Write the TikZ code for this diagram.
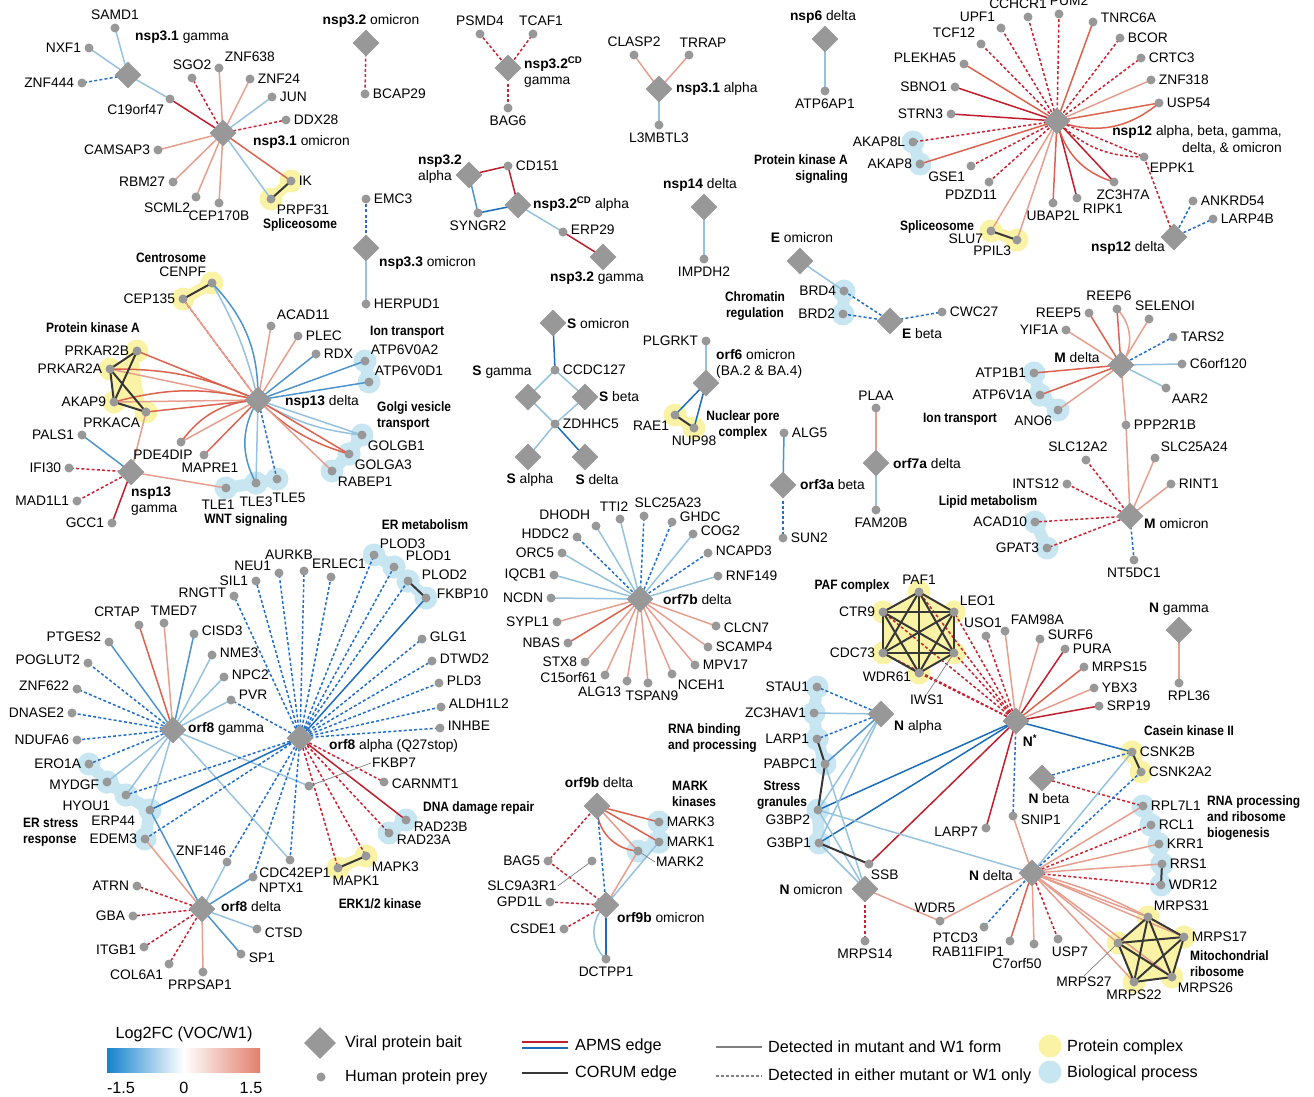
\documentclass[tikz,border=0pt]{standalone}
\usepackage{fontspec}
\setmainfont{Liberation Sans}
\newfontfamily\catf{Liberation Sans}[FakeStretch=0.88]
\usetikzlibrary{shapes.geometric}
\definecolor{cRa}{RGB}{230,158,142}
\definecolor{cRb}{RGB}{218,98,78}
\definecolor{cRc}{RGB}{190,30,45}
\definecolor{cBa}{RGB}{150,194,222}
\definecolor{cBb}{RGB}{78,148,204}
\definecolor{cBc}{RGB}{28,108,186}
\definecolor{cDR}{RGB}{200,35,50}
\definecolor{cDB}{RGB}{35,110,200}
\definecolor{ngray}{RGB}{152,152,152}
\definecolor{hlY}{RGB}{250,243,165}
\definecolor{hlB}{RGB}{200,230,241}
\definecolor{cK}{RGB}{55,55,55}
\definecolor{gL}{RGB}{20,130,205}
\definecolor{gR}{RGB}{226,128,108}
\pgfdeclarelayer{hl}\pgfdeclarelayer{bg}\pgfsetlayers{hl,bg,main}
\tikzset{
 prey/.style={circle,fill=ngray,minimum size=9pt,inner sep=0pt},
 bait/.style={diamond,fill=ngray,minimum width=27pt,minimum height=27pt,inner sep=0pt},
 lab/.style={font=\fontsize{13.8}{15.5}\selectfont,inner sep=1pt},
 blab/.style={font=\fontsize{13.8}{16.5}\selectfont,inner sep=0pt},
 cat/.style={font=\catf\bfseries\fontsize{13.6}{15.8}\selectfont,inner sep=0pt},
 leg/.style={font=\fontsize{16.2}{18}\selectfont,inner sep=0pt},
 eg/.style={line width=1.5pt},
 ra/.style={eg,draw=cRa}, rb/.style={eg,draw=cRb}, rc/.style={eg,draw=cRc},
 ba/.style={eg,draw=cBa}, bb/.style={eg,draw=cBb}, bc/.style={eg,draw=cBc},
 dr/.style={eg,draw=cDR,dash pattern=on 3pt off 2.2pt},
 db/.style={eg,draw=cDB,dash pattern=on 3pt off 2.2pt},
 cx/.style={line width=2pt,draw=cK},
 ld/.style={line width=0.7pt,draw=gray},
}
\newcommand\mkprey[6][]{\node[prey,label={[lab,#1]#5:#6}] (#2) at (#3,#4) {};}
\newcommand\mkpreyn[3]{\node[prey] (#1) at (#2,#3) {};}
\newcommand\mkbait[3]{\node[bait] (#1) at (#2,#3) {};}
\newcommand\ed[3][ba]{\draw[#1] (#2.center) -- (#3.center);}
\newcommand\ced[4][ba]{\draw[#1] (#2.center) to[#4] (#3.center);}
\newcommand\hlp[2]{\foreach \a/\b in {#2} {\draw[draw=#1,line width=12pt] (\a.center) -- (\b.center); \fill[#1] (\a.center) circle (11.5pt); \fill[#1] (\b.center) circle (11.5pt);}}
\newcommand\hls[2]{\foreach \a in {#2} {\fill[#1] (\a.center) circle (11.5pt);}}
\begin{document}
\begin{tikzpicture}[x=1pt,y=-1pt,label distance=2pt]
\useasboundingbox (0,0) rectangle (1314,1097);
% ---------- nsp3.1 ----------
\mkprey{SAMD1}{115}{28}{above}{SAMD1}
\mkprey{NXF1}{89}{48}{left}{NXF1}
\mkprey{ZNF444}{82}{83}{left}{ZNF444}
\mkprey{C19orf47}{170}{99}{below left}{C19orf47}
\mkprey{SGO2}{192}{78}{above}{SGO2}
\mkprey{ZNF638}{219}{68}{above right}{ZNF638}
\mkprey{ZNF24}{250}{79}{right}{ZNF24}
\mkprey{JUN}{272}{97}{right}{JUN}
\mkprey{DDX28}{286}{120}{right}{DDX28}
\mkprey{CAMSAP3}{158}{150}{left}{CAMSAP3}
\mkprey{RBM27}{173}{182}{left}{RBM27}
\mkprey{SCML2}{196}{197}{below left}{SCML2}
\mkprey{CEP170B}{219}{203}{below}{CEP170B}
\mkprey{IK}{291}{181}{right}{IK}
\mkprey{PRPF31}{271}{199}{below right}{PRPF31}
\mkbait{nsp31g}{128}{75}
\mkbait{nsp31o}{223}{133}
\node[blab,anchor=west] (Lnsp31g) at (135,37) {\textbf{nsp3.1} gamma};
\node[blab,anchor=west] (Lnsp31o) at (253,142) {\textbf{nsp3.1} omicron};
\node[cat] (Csplice1) at (300,225) {Spliceosome};
% nsp3.2 omicron / nsp3.3
\mkbait{nsp32o}{366}{43}
\node[blab] (Lnsp32o) at (371,21) {\textbf{nsp3.2} omicron};
\mkprey{BCAP29}{365}{94}{right}{BCAP29}
\mkprey{EMC3}{366}{199}{right}{EMC3}
\mkbait{nsp33o}{366}{248}
\node[blab,anchor=west] (Lnsp33o) at (379,263) {\textbf{nsp3.3} omicron};
\mkprey{HERPUD1}{366}{304}{right}{HERPUD1}
% nsp3.2CD gamma
\mkbait{nsp32cdg}{508}{68}
\node[blab,anchor=west,align=left] (Lnsp32cdg) at (524,72) {\textbf{nsp3.2\textsuperscript{CD}}\\gamma};
\mkprey{PSMD4}{480}{34}{above}{PSMD4}
\mkprey[xshift=8pt]{TCAF1}{533}{34}{above}{TCAF1}
\mkprey{BAG6}{508}{108}{below}{BAG6}
% nsp3.1 alpha
\mkbait{nsp31a}{659}{89}
\node[blab,anchor=west] (Lnsp31a) at (676,89) {\textbf{nsp3.1} alpha};
\mkprey{CLASP2}{634}{55}{above}{CLASP2}
\mkprey[xshift=14pt]{TRRAP}{689}{55}{above}{TRRAP}
\mkprey{L3MBTL3}{659}{125}{below}{L3MBTL3}
% nsp6
\mkbait{nsp6d}{825}{39}
\node[blab] (Lnsp6d) at (823,17) {\textbf{nsp6} delta};
\mkprey{ATP6AP1}{825}{91}{below}{ATP6AP1}
% nsp3.2 alpha etc
\mkbait{nsp32a}{469}{175}
\node[blab,anchor=east,align=left] (Lnsp32a) at (462,169) {\textbf{nsp3.2}\\alpha};
\mkprey{CD151}{508}{166}{right}{CD151}
\mkbait{nsp32cda}{518}{205}
\node[blab,anchor=west] (Lnsp32cda) at (533,204) {\textbf{nsp3.2\textsuperscript{CD}} alpha};
\mkprey{SYNGR2}{478}{213}{below}{SYNGR2}
\mkprey[yshift=2pt]{ERP29}{563}{232}{right}{ERP29}
\mkbait{nsp32g}{603}{257}
\node[blab] (Lnsp32g) at (597,278) {\textbf{nsp3.2} gamma};
% nsp14
\mkbait{nsp14d}{704}{207}
\node[blab] (Lnsp14d) at (700,185) {\textbf{nsp14} delta};
\mkprey{IMPDH2}{704}{259}{below}{IMPDH2}
% E
\mkbait{Eo}{800}{261}
\node[blab] (LEo) at (802,238) {\textbf{E} omicron};
\mkprey{BRD4}{844}{291}{left}{BRD4}
\mkprey{BRD2}{843}{314}{left}{BRD2}
\mkbait{Eb}{890}{321}
\node[blab] (LEb) at (922,334) {\textbf{E} beta};
\mkprey{CWC27}{942}{312}{right}{CWC27}
\node[cat,align=center] (Cchrom) at (755,306) {Chromatin\\regulation};
\node[cat,anchor=east,align=right] (Cpkas) at (848,169) {Protein kinase A\\signaling};
% ---------- nsp12 ----------
\mkbait{nsp12}{1057}{121}
\node[blab,anchor=east,align=right] (Lnsp12) at (1282,140) {\textbf{nsp12} alpha, beta, gamma,\\delta, \& omicron};
\mkprey[xshift=-10pt]{CCHCR1}{1028}{17}{above}{CCHCR1}
\mkprey[xshift=10pt]{PUM2}{1059}{14}{above}{PUM2}
\mkprey{UPF1}{1001}{28}{above left}{UPF1}
\mkprey{TCF12}{981}{44}{above left}{TCF12}
\mkprey[yshift=4pt]{TNRC6A}{1093}{22}{right}{TNRC6A}
\mkprey{BCOR}{1120}{38}{right}{BCOR}
\mkprey{CRTC3}{1141}{58}{right}{CRTC3}
\mkprey{ZNF318}{1151}{80}{right}{ZNF318}
\mkprey{USP54}{1159}{103}{right}{USP54}
\mkprey[yshift=6pt]{PLEKHA5}{964}{64}{left}{PLEKHA5}
\mkprey{SBNO1}{955}{87}{left}{SBNO1}
\mkprey{STRN3}{951}{114}{left}{STRN3}
\mkprey{AKAP8L}{913}{142}{left}{AKAP8L}
\mkprey{AKAP8}{920}{164}{left}{AKAP8}
\mkprey{GSE1}{971}{166}{below left}{GSE1}
\mkprey[xshift=-18pt]{PDZD11}{989}{182}{below}{PDZD11}
\mkprey{UBAP2L}{1053}{203}{below}{UBAP2L}
\mkprey{RIPK1}{1077}{198}{below right}{RIPK1}
\mkprey[xshift=9pt]{ZC3H7A}{1114}{182}{below}{ZC3H7A}
\mkprey{EPPK1}{1144}{157}{below right}{EPPK1}
\mkprey[yshift=-8pt]{SLU7}{991}{231}{left}{SLU7}
\mkprey{PPIL3}{1017}{240}{below left}{PPIL3}
\node[cat] (Csplice2) at (937,227) {Spliceosome};
\mkbait{nsp12d}{1174}{237}
\node[blab] (Lnsp12d) at (1128,248) {\textbf{nsp12} delta};
\mkprey{ANKRD54}{1193}{201}{right}{ANKRD54}
\mkprey{LARP4B}{1213}{219}{right}{LARP4B}
% ---------- nsp13 ----------
\mkbait{nsp13d}{258}{400}
\node[blab,anchor=west] (Lnsp13d) at (285,402) {\textbf{nsp13} delta};
\mkprey{CENPF}{212}{283}{above left}{CENPF}
\mkprey{CEP135}{183}{299}{left}{CEP135}
\node[cat] (Ccentro) at (171,258) {Centrosome};
\mkprey{ACAD11}{271}{326}{above right}{ACAD11}
\mkprey{PLEC}{298}{336}{right}{PLEC}
\mkprey{RDX}{316}{354}{right}{RDX}
\mkprey{ATP6V0A2}{365}{361}{above right}{ATP6V0A2}
\mkprey{ATP6V0D1}{369}{382}{above right}{ATP6V0D1}
\node[cat,anchor=west] (Cion1) at (370,332) {Ion transport};
\mkprey{PRKAR2B}{137}{351}{left}{PRKAR2B}
\mkprey{PRKAR2A}{110}{369}{left}{PRKAR2A}
\mkprey{AKAP9}{114}{402}{left}{AKAP9}
\mkprey{PRKACA}{146}{412}{below left}{PRKACA}
\node[cat] (Cpka) at (93,328) {Protein kinase A};
\mkprey{PALS1}{82}{435}{left}{PALS1}
\mkbait{nsp13g}{131}{472}
\node[blab,anchor=west,align=left] (Lnsp13g) at (131,501) {\textbf{nsp13}\\gamma};
\mkprey{IFI30}{69}{468}{left}{IFI30}
\mkprey{MAD1L1}{77}{501}{left}{MAD1L1}
\mkprey{GCC1}{112}{523}{left}{GCC1}
\mkprey[xshift=-18pt]{PDE4DIP}{181}{442}{below}{PDE4DIP}
\mkprey[xshift=6pt]{MAPRE1}{204}{455}{below}{MAPRE1}
\mkprey{GOLGB1}{362}{435}{below right}{GOLGB1}
\mkprey{GOLGA3}{349}{454}{below right}{GOLGA3}
\mkprey{RABEP1}{332}{471}{below right}{RABEP1}
\node[cat,anchor=west,align=left] (Cgolgi) at (377,416) {Golgi vesicle\\transport};
\mkprey[xshift=-8pt,yshift=-4pt]{TLE1}{226}{488}{below}{TLE1}
\mkprey[yshift=-6pt]{TLE3}{256}{483}{below}{TLE3}
\mkprey[xshift=12pt,yshift=-6pt]{TLE5}{277}{479}{below}{TLE5}
\node[cat] (Cwnt) at (246,520) {WNT signaling};
% ---------- S ----------
\mkbait{Somi}{553}{323}
\node[blab,anchor=west] (LSomi) at (567,324) {\textbf{S} omicron};
\mkprey{CCDC127}{555}{370}{right}{CCDC127}
\mkbait{Sgam}{528}{397}
\node[blab] (LSgam) at (502,372) {\textbf{S} gamma};
\mkbait{Sbeta}{585}{397}
\node[blab,anchor=west] (LSbeta) at (599,397) {\textbf{S} beta};
\mkprey{ZDHHC5}{555}{424}{right}{ZDHHC5}
\mkbait{Salpha}{528}{457}
\node[blab] (LSalpha) at (530,480) {\textbf{S} alpha};
\mkbait{Sdelta}{585}{457}
\node[blab] (LSdelta) at (597,480) {\textbf{S} delta};
% orf6
\mkbait{orf6}{706}{383}
\node[blab,anchor=west,align=left] (Lorf6) at (716,364) {\textbf{orf6} omicron\\(BA.2 \& BA.4)};
\mkprey{PLGRKT}{706}{341}{left}{PLGRKT}
\mkprey{RAE1}{675}{415}{below left}{RAE1}
\mkprey{NUP98}{694}{428}{below}{NUP98}
\node[cat,align=center] (Cnpc) at (743,425) {Nuclear pore\\complex};
% orf3a, orf7a
\mkprey{ALG5}{784}{433}{right}{ALG5}
\mkbait{orf3a}{783}{485}
\node[blab,anchor=west] (Lorf3a) at (800,485) {\textbf{orf3a} beta};
\mkprey{SUN2}{783}{538}{right}{SUN2}
\mkprey{PLAA}{876}{408}{above}{PLAA}
\mkbait{orf7a}{876}{463}
\node[blab,anchor=west] (Lorf7a) at (893,464) {\textbf{orf7a} delta};
\mkprey[xshift=5pt]{FAM20B}{876}{510}{below}{FAM20B}
% ---------- M ----------
\mkbait{Md}{1121}{365}
\node[blab] (LMd) at (1077,358) {\textbf{M} delta};
\mkprey{REEP5}{1089}{313}{left}{REEP5}
\mkprey[xshift=-8pt]{REEP6}{1117}{309}{above}{REEP6}
\mkprey[xshift=16pt]{SELENOI}{1149}{319}{above}{SELENOI}
\mkprey{TARS2}{1173}{337}{right}{TARS2}
\mkprey{YIF1A}{1066}{330}{left}{YIF1A}
\mkprey{C6orf120}{1182}{364}{right}{C6orf120}
\mkprey{AAR2}{1166}{388}{below right}{AAR2}
\mkprey{ATP1B1}{1034}{373}{left}{ATP1B1}
\mkprey{ATP6V1A}{1040}{395}{left}{ATP6V1A}
\mkprey{ANO6}{1058}{410}{below left}{ANO6}
\node[cat] (Cion2) at (960,419) {Ion transport};
\mkprey{PPP2R1B}{1126}{425}{right}{PPP2R1B}
\mkbait{Mo}{1130}{516}
\node[blab,anchor=west] (LMo) at (1144,524) {\textbf{M} omicron};
\mkprey[xshift=-8pt]{SLC12A2}{1086}{460}{above}{SLC12A2}
\mkprey{SLC25A24}{1155}{458}{above right}{SLC25A24}
\mkprey{INTS12}{1067}{484}{left}{INTS12}
\mkprey{RINT1}{1171}{484}{right}{RINT1}
\mkprey{ACAD10}{1035}{522}{left}{ACAD10}
\mkprey{GPAT3}{1047}{548}{left}{GPAT3}
\node[cat] (Clipid) at (988,502) {Lipid metabolism};
\mkprey{NT5DC1}{1134}{560}{below}{NT5DC1}
% ---------- orf7b ----------
\mkbait{orf7b}{640}{599}
\node[blab,anchor=west] (Lorf7b) at (663,600) {\textbf{orf7b} delta};
\mkprey[xshift=-6pt]{TTI2}{620}{519}{above}{TTI2}
\mkprey[xshift=24pt]{SLC25A23}{644}{516}{above}{SLC25A23}
\mkprey[yshift=5pt]{GHDC}{672}{522}{right}{GHDC}
\mkprey[yshift=3pt]{COG2}{693}{534}{right}{COG2}
\mkprey[yshift=2pt]{NCAPD3}{708}{553}{right}{NCAPD3}
\mkprey{RNF149}{718}{576}{right}{RNF149}
\mkprey{DHODH}{596}{526}{above left}{DHODH}
\mkprey[yshift=3pt]{HDDC2}{577}{537}{left}{HDDC2}
\mkprey{ORC5}{562}{553}{left}{ORC5}
\mkprey{IQCB1}{554}{575}{left}{IQCB1}
\mkprey{NCDN}{551}{598}{left}{NCDN}
\mkprey{SYPL1}{557}{622}{left}{SYPL1}
\mkprey{NBAS}{568}{643}{left}{NBAS}
\mkprey{STX8}{585}{662}{left}{STX8}
\mkprey[yshift=-3pt]{C15orf61}{605}{675}{left}{C15orf61}
\mkprey{ALG13}{627}{681}{below left}{ALG13}
\mkprey[xshift=4pt]{TSPAN9}{648}{683}{below}{TSPAN9}
\mkprey{NCEH1}{672}{674}{below right}{NCEH1}
\mkprey{MPV17}{695}{665}{right}{MPV17}
\mkprey{SCAMP4}{708}{647}{right}{SCAMP4}
\mkprey[yshift=-2pt]{CLCN7}{716}{626}{right}{CLCN7}
% ---------- orf8 ----------
\mkbait{orf8g}{173}{730}
\node[blab,anchor=west] (Lorf8g) at (188,729) {\textbf{orf8} gamma};
\mkbait{orf8a}{300}{738}
\node[blab,anchor=west] (Lorf8a) at (329,746) {\textbf{orf8} alpha (Q27stop)};
\mkbait{orf8d}{202}{909}
\node[blab,anchor=west] (Lorf8d) at (221,907) {\textbf{orf8} delta};
\mkprey[xshift=-22pt]{CRTAP}{139}{625}{above}{CRTAP}
\mkprey[xshift=10pt]{TMED7}{164}{623}{above}{TMED7}
\mkprey[yshift=5pt]{PTGES2}{109}{642}{left}{PTGES2}
\mkprey[yshift=3pt]{CISD3}{194}{634}{right}{CISD3}
\mkprey[yshift=3pt]{POGLUT2}{88}{663}{left}{POGLUT2}
\mkprey[yshift=2pt]{NME3}{212}{655}{right}{NME3}
\mkprey[yshift=3pt]{ZNF622}{77}{689}{left}{ZNF622}
\mkprey[yshift=2pt]{NPC2}{224}{677}{right}{NPC2}
\mkprey[yshift=5pt]{PVR}{231}{700}{right}{PVR}
\mkprey{DNASE2}{72}{713}{left}{DNASE2}
\mkprey{NDUFA6}{77}{740}{left}{NDUFA6}
\mkprey{ERO1A}{89}{764}{left}{ERO1A}
\mkprey[yshift=-3pt]{MYDGF}{107}{782}{left}{MYDGF}
\mkprey[xshift=-10pt]{HYOU1}{126}{795}{below left}{HYOU1}
\mkprey[xshift=-9pt]{ERP44}{150}{810}{below left}{ERP44}
\mkprey{EDEM3}{145}{839}{left}{EDEM3}
\node[cat,anchor=west,align=left] (Cers) at (23,832) {ER stress\\response};
\mkprey[yshift=3pt]{RNGTT}{234}{596}{left}{RNGTT}
\mkprey{SIL1}{256}{581}{left}{SIL1}
\mkprey[yshift=7pt]{NEU1}{279}{573}{left}{NEU1}
\mkprey[xshift=-15pt,yshift=3pt]{AURKB}{304}{571}{above}{AURKB}
\mkprey[xshift=8pt]{ERLEC1}{331}{577}{above}{ERLEC1}
\mkprey{PLOD3}{374}{555}{above right}{PLOD3}
\mkprey[xshift=6pt]{PLOD1}{394}{567}{above right}{PLOD1}
\mkprey[xshift=6pt,yshift=6pt]{PLOD2}{408}{581}{right}{PLOD2}
\mkprey[xshift=3pt,yshift=4pt]{FKBP10}{426}{598}{right}{FKBP10}
\node[cat] (Cerm) at (425,525) {ER metabolism};
\mkprey[yshift=2pt]{GLG1}{422}{639}{right}{GLG1}
\mkprey[yshift=2pt]{DTWD2}{432}{661}{right}{DTWD2}
\mkprey[yshift=2pt]{PLD3}{439}{683}{right}{PLD3}
\mkprey[yshift=3pt]{ALDH1L2}{441}{707}{right}{ALDH1L2}
\mkprey[yshift=2pt]{INHBE}{440}{728}{right}{INHBE}
\mkpreyn{FKBP7}{309}{786}
\node[lab,anchor=west] (LFKBP7) at (371,763) {FKBP7};
\mkprey[yshift=-2pt]{CARNMT1}{384}{782}{right}{CARNMT1}
\mkprey[yshift=-7pt]{RAD23B}{406}{820}{right}{RAD23B}
\mkprey[yshift=-7pt]{RAD23A}{389}{833}{right}{RAD23A}
\node[cat,anchor=west] (Cdna) at (423,808) {DNA damage repair};
\mkprey{MAPK3}{366}{856}{below right}{MAPK3}
\mkprey[xshift=18pt]{MAPK1}{338}{868}{below}{MAPK1}
\node[cat] (Cerk) at (380,904) {ERK1/2 kinase};
\mkprey[xshift=5pt]{CDC42EP1}{290}{860}{below}{CDC42EP1}
\mkprey{NPTX1}{253}{877}{below right}{NPTX1}
\mkprey[xshift=5pt]{ZNF146}{227}{862}{above left}{ZNF146}
\mkprey{ATRN}{137}{886}{left}{ATRN}
\mkprey{GBA}{133}{916}{left}{GBA}
\mkprey[yshift=-3pt]{ITGB1}{144}{947}{left}{ITGB1}
\mkprey{COL6A1}{169}{964}{below left}{COL6A1}
\mkprey[xshift=-3pt]{PRPSAP1}{203}{972}{below}{PRPSAP1}
\mkprey[yshift=-4pt]{SP1}{241}{954}{right}{SP1}
\mkprey[yshift=-4pt]{CTSD}{257}{929}{right}{CTSD}
% ---------- orf9b ----------
\mkbait{orf9bd}{597}{806}
\node[blab] (Lorf9bd) at (599,783) {\textbf{orf9b} delta};
\mkbait{orf9bo}{606}{905}
\node[blab,anchor=west] (Lorf9bo) at (617,918) {\textbf{orf9b} omicron};
\mkprey{MARK3}{659}{822}{right}{MARK3}
\mkprey{MARK1}{659}{842}{right}{MARK1}
\mkpreyn{MARK2}{638}{851}
\node[lab] (LMARK2) at (680,862) {MARK2};
\node[cat,anchor=west,align=left] (Cmark) at (672,794) {MARK\\kinases};
\mkprey{BAG5}{548}{861}{left}{BAG5}
\mkpreyn{SLC9A3R1}{592}{861}
\node[lab] (LSLC9) at (522,886) {SLC9A3R1};
\mkprey{GPD1L}{550}{902}{left}{GPD1L}
\mkprey{CSDE1}{564}{929}{left}{CSDE1}
\mkprey{DCTPP1}{606}{959}{below}{DCTPP1}
% ---------- N ----------
\mkbait{Nstar}{1016}{721}
\node[blab] (LNstar) at (1030,741) {\textbf{N\textsuperscript{*}}};
\mkbait{Ngam}{1179}{630}
\node[blab] (LNgam) at (1179,609) {\textbf{N} gamma};
\mkbait{Nalpha}{881}{714}
\node[blab] (LNalpha) at (918,727) {\textbf{N} alpha};
\mkbait{Nbeta}{1042}{778}
\node[blab] (LNbeta) at (1049,799) {\textbf{N} beta};
\mkbait{Nomi}{865}{889}
\node[blab] (LNomi) at (811,890) {\textbf{N} omicron};
\mkbait{Ndelta}{1032}{873}
\node[blab] (LNdelta) at (991,876) {\textbf{N} delta};
\mkprey{PAF1}{919}{592}{above}{PAF1}
\mkprey{LEO1}{954}{612}{above right}{LEO1}
\mkprey{CTR9}{883}{612}{left}{CTR9}
\mkprey{CDC73}{883}{653}{left}{CDC73}
\mkprey[yshift=-4pt]{WDR61}{919}{673}{left}{WDR61}
\mkpreyn{IWS1}{954}{653}
\node[lab] (LIWS1) at (927,700) {IWS1};
\node[cat] (Cpaf) at (852,586) {PAF complex};
\mkprey[xshift=-3pt]{USO1}{986}{636}{above}{USO1}
\mkprey{FAM98A}{1005}{631}{above right}{FAM98A}
\mkprey[yshift=4pt]{SURF6}{1040}{639}{right}{SURF6}
\mkprey{PURA}{1065}{649}{right}{PURA}
\mkprey{MRPS15}{1084}{667}{right}{MRPS15}
\mkprey{YBX3}{1094}{688}{right}{YBX3}
\mkprey{SRP19}{1099}{706}{right}{SRP19}
\mkprey[xshift=10pt]{RPL36}{1179}{683}{below}{RPL36}
\mkprey{STAU1}{817}{687}{left}{STAU1}
\mkprey{ZC3HAV1}{814}{713}{left}{ZC3HAV1}
\mkprey{LARP1}{817}{739}{left}{LARP1}
\mkprey{PABPC1}{825}{764}{left}{PABPC1}
\mkprey[yshift=-10pt]{G3BP2}{818}{810}{left}{G3BP2}
\mkprey{G3BP1}{819}{843}{left}{G3BP1}
\node[cat,anchor=west,align=left] (Crna) at (668,738) {RNA binding\\and processing};
\node[cat,align=center] (Cstress) at (782,795) {Stress\\granules};
\mkprey[xshift=-4pt]{SSB}{869}{864}{below right}{SSB}
\mkprey[yshift=-4pt]{LARP7}{986}{828}{left}{LARP7}
\mkprey[yshift=-4pt]{SNIP1}{1013}{816}{right}{SNIP1}
\mkprey{CSNK2B}{1132}{752}{right}{CSNK2B}
\mkprey{CSNK2A2}{1141}{772}{right}{CSNK2A2}
\node[cat,anchor=west] (Ccasein) at (1144,731) {Casein kinase II};
\mkprey{RPL7L1}{1143}{806}{right}{RPL7L1}
\mkprey{RCL1}{1151}{825}{right}{RCL1}
\mkprey{KRR1}{1159}{844}{right}{KRR1}
\mkprey{RRS1}{1162}{864}{right}{RRS1}
\mkprey{WDR12}{1161}{885}{right}{WDR12}
\node[cat,anchor=west,align=left] (Crnap) at (1207,818) {RNA processing\\and ribosome\\biogenesis};
\mkprey{MRPS14}{865}{941}{below}{MRPS14}
\mkprey[xshift=-5pt]{WDR5}{940}{921}{above}{WDR5}
\mkprey{PTCD3}{984}{927}{below left}{PTCD3}
\mkprey{RAB11FIP1}{1010}{941}{below left}{RAB11FIP1}
\mkprey[xshift=-17pt,yshift=-7pt]{C7orf50}{1034}{944}{below}{C7orf50}
\mkprey[xshift=12pt]{USP7}{1058}{939}{below}{USP7}
\mkprey{MRPS31}{1148}{917}{above right}{MRPS31}
\mkprey{MRPS17}{1184}{937}{right}{MRPS17}
\mkpreyn{MRPS27}{1118}{943}
\node[lab] (LMRPS27) at (1084,982) {MRPS27};
\mkprey{MRPS22}{1134}{982}{below}{MRPS22}
\mkprey{MRPS26}{1172}{977}{below right}{MRPS26}
\node[cat,anchor=west,align=left] (Cmito) at (1190,964) {Mitochondrial\\ribosome};
% ---------- legend ----------
\node[leg] (Lgtitle) at (184,1034) {Log2FC (VOC/W1)};
\shade[left color=gL,right color=gR,middle color=white] (107,1048) rectangle (260,1072);
\node[leg] (Lg1) at (121,1088) {-1.5};
\node[leg] (Lg2) at (184,1088) {0};
\node[leg] (Lg3) at (251,1088) {1.5};
\node[bait,minimum width=32pt,minimum height=32pt] (legB) at (320,1043) {};
\node[leg,anchor=west] (legBt) at (345,1043) {Viral protein bait};
\node[prey] (legP) at (321,1077) {};
\node[leg,anchor=west] (legPt) at (345,1077) {Human protein prey};
\coordinate (la1) at (522,1042); \coordinate (la2) at (568,1042);
\coordinate (la3) at (522,1048); \coordinate (la4) at (568,1048);
\draw[draw=cRc,line width=2.5pt] (la1) -- (la2);
\draw[draw=cBc,line width=2.5pt] (la3) -- (la4);
\node[leg,anchor=west] (legA) at (575,1046) {APMS edge};
\coordinate (lc1) at (522,1073); \coordinate (lc2) at (568,1073);
\draw[draw=cK,line width=2.5pt] (lc1) -- (lc2);
\node[leg,anchor=west] (legC) at (575,1073) {CORUM edge};
\coordinate (ls1) at (716,1047); \coordinate (ls2) at (762,1047);
\draw[draw=gray,line width=2.5pt] (ls1) -- (ls2);
\node[leg,anchor=west] (legS) at (768,1047) {Detected in mutant and W1 form};
\coordinate (lt1) at (716,1076); \coordinate (lt2) at (762,1076);
\draw[draw=gray,line width=2.5pt,dash pattern=on 3pt off 2pt] (lt1) -- (lt2);
\node[leg,anchor=west] (legT) at (768,1076) {Detected in either mutant or W1 only};
\node[circle,fill=hlY,minimum size=23pt,inner sep=0] (legY) at (1050,1046) {};
\node[leg,anchor=west] (legYt) at (1067,1047) {Protein complex};
\node[circle,fill=hlB,minimum size=23pt,inner sep=0] (legBl) at (1050,1072) {};
\node[leg,anchor=west] (legBlt) at (1067,1073) {Biological process};
% ---------- highlights ----------
\begin{pgfonlayer}{hl}
\hlp{hlY}{IK/PRPF31,CENPF/CEP135,SLU7/PPIL3,RAE1/NUP98,MAPK1/MAPK3,CSNK2B/CSNK2A2}
\fill[hlY] (PRKAR2B.center) -- (PRKAR2A.center) -- (AKAP9.center) -- (PRKACA.center) -- cycle;
\hls{hlY}{PRKAR2B,PRKAR2A,AKAP9,PRKACA}
\fill[hlY] (PAF1.center) -- (LEO1.center) -- (IWS1.center) -- (WDR61.center) -- (CDC73.center) -- (CTR9.center) -- cycle;
\hls{hlY}{PAF1,LEO1,IWS1,WDR61,CDC73,CTR9}
\fill[hlY] (MRPS31.center) -- (MRPS17.center) -- (MRPS26.center) -- (MRPS22.center) -- (MRPS27.center) -- cycle;
\hls{hlY}{MRPS31,MRPS17,MRPS26,MRPS22,MRPS27}
\hlp{hlB}{AKAP8L/AKAP8,ATP6V0A2/ATP6V0D1,GOLGB1/GOLGA3,GOLGA3/RABEP1,TLE1/TLE3,TLE3/TLE5,BRD4/BRD2,ATP1B1/ATP6V1A,ATP6V1A/ANO6,ACAD10/GPAT3,PLOD3/PLOD1,PLOD1/PLOD2,PLOD2/FKBP10,ERO1A/MYDGF,MYDGF/HYOU1,HYOU1/ERP44,ERP44/EDEM3,RAD23B/RAD23A,MARK3/MARK1,MARK1/MARK2,STAU1/ZC3HAV1,ZC3HAV1/LARP1,LARP1/PABPC1,G3BP2/G3BP1,RPL7L1/RCL1,RCL1/KRR1,KRR1/RRS1,RRS1/WDR12}
\end{pgfonlayer}
% ---------- edges ----------
\begin{pgfonlayer}{bg}
% nsp3.1
\ed{nsp31g}{SAMD1}\ed{nsp31g}{NXF1}\ed[db]{nsp31g}{ZNF444}\ed{nsp31g}{C19orf47}
\ed[rc]{C19orf47}{nsp31o}\ed[dr]{nsp31o}{SGO2}\ed[ra]{nsp31o}{ZNF638}\ed[ra]{nsp31o}{ZNF24}
\ed{nsp31o}{JUN}\ed[dr]{nsp31o}{DDX28}\ed[ra]{nsp31o}{CAMSAP3}\ed[ra]{nsp31o}{RBM27}
\ed[ra]{nsp31o}{SCML2}\ed[ra]{nsp31o}{CEP170B}\ed[rb]{nsp31o}{IK}\ed{nsp31o}{PRPF31}
\ed[cx]{IK}{PRPF31}
\ed[dr]{nsp32o}{BCAP29}\ed[db]{EMC3}{nsp33o}\ed{nsp33o}{HERPUD1}
\ed[dr]{nsp32cdg}{PSMD4}\ed[dr]{nsp32cdg}{TCAF1}\ed[dr]{nsp32cdg}{BAG6}
\ed[ra]{nsp31a}{CLASP2}\ed[ra]{nsp31a}{TRRAP}\ed{nsp31a}{L3MBTL3}
\ed{nsp6d}{ATP6AP1}
\ed[rc]{nsp32a}{CD151}\ed[rc]{CD151}{nsp32cda}\ed[bb]{nsp32a}{SYNGR2}\ed[bc]{SYNGR2}{nsp32cda}
\ed{nsp32cda}{ERP29}\ed[rc]{ERP29}{nsp32g}
\ed{nsp14d}{IMPDH2}
\ed{Eo}{BRD4}\ed[db]{BRD4}{Eb}\ed[db]{BRD2}{Eb}\ed[db]{Eb}{CWC27}
% nsp12
\ed[dr]{nsp12}{CCHCR1}\ed[dr]{nsp12}{PUM2}\ed[dr]{nsp12}{UPF1}\ed[dr]{nsp12}{TCF12}
\ed[rb]{nsp12}{TNRC6A}\ed[dr]{nsp12}{BCOR}\ed[dr]{nsp12}{CRTC3}\ed[ra]{nsp12}{ZNF318}
\ed[rb]{nsp12}{USP54}\ced[rb]{nsp12}{USP54}{bend right=30}
\ed[rb]{nsp12}{PLEKHA5}\ed[rc]{nsp12}{SBNO1}\ed[rc]{nsp12}{STRN3}
\ed[dr]{nsp12}{AKAP8L}\ed[rb]{nsp12}{AKAP8}\ed[dr]{nsp12}{GSE1}\ed[dr]{nsp12}{PDZD11}
\ed[rb]{nsp12}{UBAP2L}\ed[rc]{nsp12}{RIPK1}\ed[rc]{nsp12}{ZC3H7A}\ced[rb]{nsp12}{ZC3H7A}{bend right=30}
\ed[dr]{nsp12}{EPPK1}\ced[dr]{nsp12}{EPPK1}{bend right=22}
\ed[ra]{nsp12}{SLU7}\ed[ra]{nsp12}{PPIL3}\ed[cx]{SLU7}{PPIL3}
\ed[dr]{EPPK1}{nsp12d}\ed[db]{nsp12d}{ANKRD54}\ed[db]{nsp12d}{LARP4B}
% nsp13
\ed[dr]{nsp13d}{CEP135}\ed[ra]{nsp13d}{CEP135}
\ced{nsp13d}{CENPF}{bend right=8}\ced[bb]{nsp13d}{CENPF}{bend right=22}
\ed[cx]{CENPF}{CEP135}
\ed[ra]{nsp13d}{ACAD11}\ed[ra]{nsp13d}{PLEC}\ed[bb]{nsp13d}{RDX}
\ed[bb]{nsp13d}{ATP6V0A2}\ed[bb]{nsp13d}{ATP6V0D1}
\ed[rb]{nsp13d}{PRKAR2B}\ed[ra]{nsp13d}{PRKAR2A}\ced[rb]{PRKAR2A}{nsp13d}{bend left=12}
\ed[ra]{nsp13d}{AKAP9}\ced[rb]{AKAP9}{nsp13d}{bend left=14}\ed[rb]{nsp13d}{PRKACA}
\ed[ra]{nsp13d}{PDE4DIP}\ced[rb]{PDE4DIP}{nsp13d}{bend left=25}\ed[rb]{nsp13d}{MAPRE1}
\ed{nsp13d}{GOLGB1}\ced{nsp13d}{GOLGB1}{bend right=12}
\ed[rb]{nsp13d}{GOLGA3}\ced[rb]{nsp13d}{GOLGA3}{bend right=14}\ed[ra]{nsp13d}{RABEP1}
\ed{nsp13d}{TLE3}\ced[bb]{nsp13d}{TLE3}{bend right=30}\ed[db]{nsp13d}{TLE5}
\foreach \a/\b in {PRKAR2B/PRKAR2A,PRKAR2B/AKAP9,PRKAR2A/AKAP9,PRKAR2A/PRKACA,AKAP9/PRKACA} {\ed[cx]{\a}{\b}}
\ed[ra]{nsp13g}{PRKACA}\ed[bb]{nsp13g}{PALS1}\ed[dr]{nsp13g}{IFI30}\ed[dr]{nsp13g}{MAD1L1}
\ed[rc]{nsp13g}{GCC1}\ed[ra]{nsp13g}{TLE1}
% S
\ed[bc]{Somi}{CCDC127}\ed{CCDC127}{Sgam}\ed{CCDC127}{Sbeta}\ed{Sgam}{ZDHHC5}\ed{Sbeta}{ZDHHC5}
\ed{ZDHHC5}{Salpha}\ed[bc]{ZDHHC5}{Sdelta}
% orf6, orf3a, orf7a
\ed{PLGRKT}{orf6}\ed[bc]{orf6}{RAE1}\ed[bc]{orf6}{NUP98}\ed[cx]{RAE1}{NUP98}
\ed[bb]{ALG5}{orf3a}\ed[db]{orf3a}{SUN2}
\ed[ra]{PLAA}{orf7a}\ed{orf7a}{FAM20B}
% M
\ed[rb]{Md}{REEP5}\ed[rb]{Md}{REEP6}\ced[ra]{Md}{REEP6}{bend right=40}\ed[ra]{Md}{SELENOI}
\ed[db]{Md}{TARS2}\ed[ra]{Md}{YIF1A}\ed{Md}{C6orf120}\ed{Md}{AAR2}
\ed[rb]{Md}{ATP1B1}\ed[rb]{Md}{ATP6V1A}\ed[ra]{Md}{ANO6}
\ed[ra]{Md}{PPP2R1B}\ed[ra]{PPP2R1B}{Mo}
\ed[dr]{Mo}{SLC12A2}\ed[ra]{Mo}{SLC25A24}\ed[dr]{Mo}{INTS12}\ed[ra]{Mo}{RINT1}
\ed[dr]{Mo}{ACAD10}\ed[dr]{Mo}{GPAT3}\ed[db]{Mo}{NT5DC1}
% orf7b
\foreach \n in {TTI2,COG2,RNF149,DHODH,ORC5,IQCB1,NCDN} {\ed{orf7b}{\n}}
\foreach \n in {SLC25A23,GHDC,NCAPD3,HDDC2} {\ed[db]{orf7b}{\n}}
\foreach \n in {SYPL1,STX8,C15orf61,ALG13,TSPAN9,NCEH1,MPV17,SCAMP4,CLCN7} {\ed[ra]{orf7b}{\n}}
\ed[rb]{orf7b}{NBAS}
% orf8 gamma
\ed[rb]{orf8g}{CRTAP}\ed[ra]{orf8g}{TMED7}\ed[bb]{orf8g}{PTGES2}\ed[bb]{orf8g}{CISD3}
\ed[db]{orf8g}{POGLUT2}\ed{orf8g}{NME3}\ed[db]{orf8g}{ZNF622}\ed{orf8g}{NPC2}\ed{orf8g}{PVR}
\ed[db]{orf8g}{DNASE2}\ed[db]{orf8g}{NDUFA6}\ed[db]{orf8g}{ERO1A}\ed{orf8g}{MYDGF}
\ed{orf8g}{HYOU1}\ed{orf8g}{ERP44}\ed{orf8g}{FKBP7}\ed{orf8g}{CDC42EP1}
% orf8 alpha
\foreach \n in {RNGTT,SIL1,NEU1,AURKB,ERLEC1,PLOD3,PLOD1,PLOD2,GLG1,DTWD2,PLD3,ALDH1L2,INHBE,PVR,HYOU1,EDEM3,ZNF146,NPTX1,CDC42EP1} {\ed[db]{orf8a}{\n}}
\ed[bc]{orf8a}{FKBP10}\ed[bc]{orf8a}{ERP44}
\ed[dr]{orf8a}{CARNMT1}\ed[rc]{orf8a}{RAD23B}\ed[dr]{orf8a}{RAD23A}\ed[dr]{orf8a}{MAPK3}\ed[dr]{orf8a}{MAPK1}
\ed[cx]{PLOD2}{FKBP10}\ed[cx]{MAPK1}{MAPK3}
\draw[ld] (FKBP7.center) -- (LFKBP7.west);
% orf8 delta
\ed[dr]{orf8d}{ATRN}\ed[dr]{orf8d}{GBA}\ed[dr]{orf8d}{ITGB1}\ed[dr]{orf8d}{COL6A1}
\ed[ra]{orf8d}{PRPSAP1}\ed[bb]{orf8d}{SP1}\ed{orf8d}{CTSD}\ed[ra]{orf8d}{EDEM3}\ed[bb]{orf8d}{ERP44}
\ed{orf8d}{ZNF146}\ed[bb]{orf8d}{NPTX1}
% orf9b
\ed[rb]{orf9bd}{MARK3}\ed[rb]{orf9bd}{MARK1}\ed[ra]{orf9bd}{MARK2}\ced[rb]{orf9bd}{MARK2}{bend right=45}
\ed[dr]{orf9bd}{BAG5}\ed[db]{orf9bd}{orf9bo}
\ed[dr]{BAG5}{orf9bo}\ed[dr]{GPD1L}{orf9bo}\ed[dr]{CSDE1}{orf9bo}
\ed[ra]{orf9bo}{MARK2}\ed{orf9bo}{MARK1}\ed[bc]{orf9bo}{DCTPP1}\ced{orf9bo}{DCTPP1}{bend right=50}
\draw[ld] (MARK2.center) -- (LMARK2.west);
\draw[ld] (SLC9A3R1.center) -- (LSLC9.east);
% N
\foreach \n in {PAF1,LEO1,CTR9,CDC73,WDR61,IWS1,USO1} {\ed[dr]{Nstar}{\n}}
\foreach \a/\b in {PAF1/LEO1,PAF1/IWS1,PAF1/WDR61,PAF1/CDC73,PAF1/CTR9,LEO1/IWS1,LEO1/WDR61,LEO1/CDC73,LEO1/CTR9,IWS1/WDR61,IWS1/CDC73,IWS1/CTR9,WDR61/CDC73,WDR61/CTR9,CDC73/CTR9} {\ed[cx]{\a}{\b}}
\draw[ld] (IWS1.center) -- (LIWS1.north);
\ed[ra]{Nstar}{FAM98A}\ed[ra]{Nstar}{SURF6}\ed[rc]{Nstar}{PURA}\ed[rb]{Nstar}{MRPS15}
\ed[ra]{Nstar}{YBX3}\ed[rc]{Nstar}{SRP19}
\ed[bc]{Nstar}{G3BP2}\ed[bc]{Nstar}{G3BP1}\ed[bc]{Nstar}{CSNK2B}
\ed[rc]{Nstar}{SSB}\ed[rc]{Nstar}{LARP7}\ed[db]{Nstar}{SNIP1}
\ed[ra]{Ngam}{RPL36}
\ed[db]{Nalpha}{STAU1}\ed{Nalpha}{ZC3HAV1}\ed[db]{Nalpha}{LARP1}\ed[bb]{Nalpha}{PABPC1}
\ed{Nalpha}{G3BP2}\ed{Nalpha}{G3BP1}
\ed{Nomi}{G3BP2}\ed{Nomi}{G3BP1}\ed{Nomi}{PABPC1}\ed[ra]{Nomi}{WDR5}\ed[dr]{Nomi}{MRPS14}
\ed[cx]{LARP1}{PABPC1}\ed[cx]{PABPC1}{G3BP2}\ed[cx]{G3BP1}{SSB}
\ed[db]{Nbeta}{CSNK2B}\ed[dr]{Nbeta}{RPL7L1}
\ed{Ndelta}{G3BP2}\ed{Ndelta}{CSNK2B}\ed[db]{Ndelta}{CSNK2A2}\ed[ra]{Ndelta}{SNIP1}
\ed[ra]{Ndelta}{RPL7L1}\ed[dr]{Ndelta}{RCL1}\ed[ra]{Ndelta}{KRR1}\ed[ra]{Ndelta}{RRS1}\ed[dr]{Ndelta}{WDR12}
\ed[ra]{Ndelta}{WDR5}\ed[db]{Ndelta}{PTCD3}\ed[rb]{Ndelta}{RAB11FIP1}\ed[ra]{Ndelta}{C7orf50}\ed[dr]{Ndelta}{USP7}
\foreach \n in {MRPS31,MRPS17,MRPS27,MRPS22,MRPS26} {\ed[ra]{Ndelta}{\n}}
\ced[ra]{Ndelta}{MRPS31}{bend left=6}
\ed[cx]{CSNK2B}{CSNK2A2}\ed[cx]{RRS1}{WDR12}
\foreach \a/\b in {MRPS31/MRPS17,MRPS31/MRPS26,MRPS31/MRPS22,MRPS31/MRPS27,MRPS17/MRPS26,MRPS17/MRPS22,MRPS17/MRPS27,MRPS26/MRPS22,MRPS26/MRPS27,MRPS22/MRPS27} {\ed[cx]{\a}{\b}}
\draw[ld] (MRPS27.center) -- (LMRPS27.north);
\end{pgfonlayer}
\end{tikzpicture}
\end{document}
